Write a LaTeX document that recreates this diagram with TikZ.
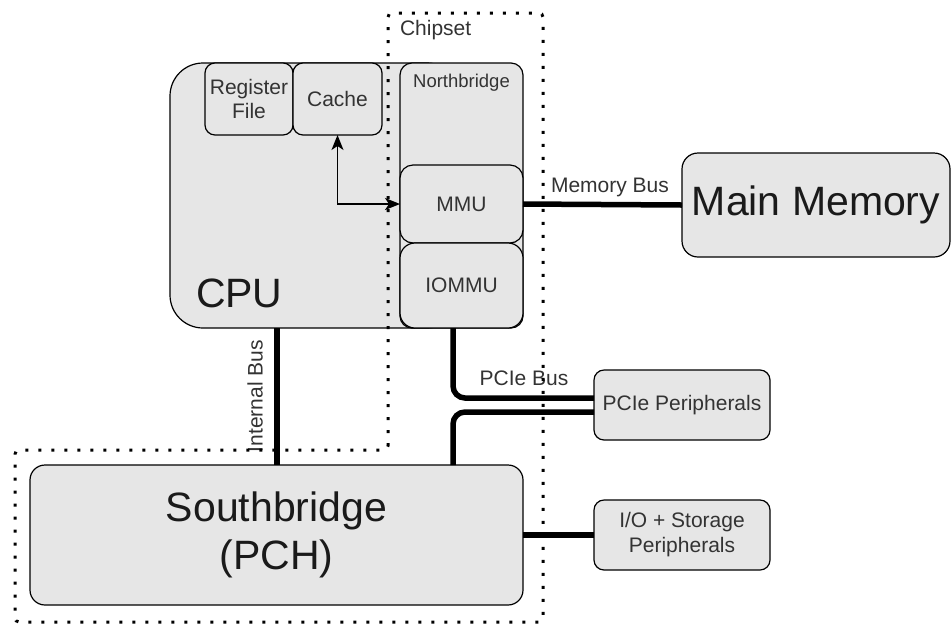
\documentclass[tikz,border=0pt]{standalone}
\usepackage{fontspec}
\setmainfont{Liberation Sans}
\usetikzlibrary{arrows.meta}
\definecolor{boxfill}{HTML}{E6E6E6}
\definecolor{txt}{HTML}{333333}
\definecolor{bigtxt}{HTML}{1A1A1A}
\tikzset{
  box/.style={draw=black, line width=1.2pt, fill=boxfill, inner sep=0pt, outer sep=0pt,
    text=txt, align=center, font=\fontsize{21}{24}\selectfont},
  plain/.style={inner sep=0pt, outer sep=0pt, text=txt, font=\fontsize{21}{24}\selectfont},
  bigtext/.style={text=bigtxt, font=\fontsize{41}{48}\selectfont},
  bus/.style={line width=5.5pt, line cap=butt},
  link/.style={line width=1.5pt, {Stealth[length=15pt,width=12pt,inset=4pt]}-{Stealth[length=15pt,width=12pt,inset=4pt]}},
  chipsetline/.style={line width=3pt, dash pattern=on 3pt off 10pt, line cap=butt}
}
\begin{document}
\begin{tikzpicture}[x=1pt,y=-1pt]
\useasboundingbox (0,0) rectangle (952,625);

% CPU package with its register file and cache
\node[box, rounded corners=33pt, minimum width=290pt, minimum height=265pt] (cpu) at (315,195.5) {};
\node[plain, bigtext, anchor=west] (cpuname) at (196,293) {CPU};
\node[box, rounded corners=10pt, minimum width=88pt, minimum height=72pt] (regfile) at (249,99) {Register\\File};
\node[box, rounded corners=10pt, minimum width=89pt, minimum height=72pt] (cache) at (337.5,99) {Cache};

% Northbridge with MMU and IOMMU
\node[box, rounded corners=12pt, minimum width=123pt, minimum height=265pt] (nb) at (461.5,195.5) {};
\node[plain, font=\fontsize{18.5}{22}\selectfont] (nbname) at (461.5,83) {Northbridge};
\node[box, rounded corners=13pt, minimum width=123pt, minimum height=78pt] (mmu) at (461.5,204) {MMU};
\node[box, rounded corners=15pt, minimum width=123pt, minimum height=85pt] (iommu) at (461.5,285.5) {IOMMU};

% Memory and peripherals
\node[box, rounded corners=16pt, minimum width=268pt, minimum height=104pt, bigtext] (mem) at (816,205) {Main Memory};
\node[box, rounded corners=10pt, minimum width=176pt, minimum height=70pt] (pcie) at (682,405) {PCIe Peripherals};
\node[box, rounded corners=10pt, minimum width=176pt, minimum height=70pt, font=\fontsize{21}{25}\selectfont] (io) at (682,535) {I/O + Storage\\Peripherals};
\node[box, rounded corners=15pt, minimum width=493pt, minimum height=140pt, bigtext] (sb) at (276.5,535) {Southbridge\\(PCH)};

% Buses
\coordinate (ibx) at (277,0);
\coordinate (pcx) at (453,0);
\draw[bus] (cpu.south -| ibx) -- (sb.north -| ibx);
\node[plain, rotate=90] (iblabel) at (255,396) {Internal Bus};

\draw[bus] (mmu.east) -- (mem.west);
\node[plain] (mblabel) at (610,187) {Memory Bus};

\draw[bus, rounded corners=12pt] (iommu.south -| pcx) |- ([yshift=7pt]pcie.west);
\draw[bus, rounded corners=12pt] (sb.north -| pcx) |- ([yshift=-7pt]pcie.west);
\node[plain] (pblabel) at (524,378) {PCIe Bus};

\draw[bus] (sb.east) -- (io.west);

% Cache to MMU path
\draw[link] (cache.south) |- (mmu.west);

% Chipset boundary
\coordinate (c1) at (388,450);
\coordinate (c2) at (388,13);
\coordinate (c3) at (543,13);
\coordinate (c4) at (543,622);
\coordinate (c5) at (15,622);
\coordinate (c6) at (15,450);
\draw[chipsetline, rounded corners=4pt] (c1) -- (c2) -- (c3) -- (c4) -- (c5) -- (c6) -- cycle;
\node[plain, anchor=west] (chipset) at (400,30) {Chipset};
\end{tikzpicture}
\end{document}
